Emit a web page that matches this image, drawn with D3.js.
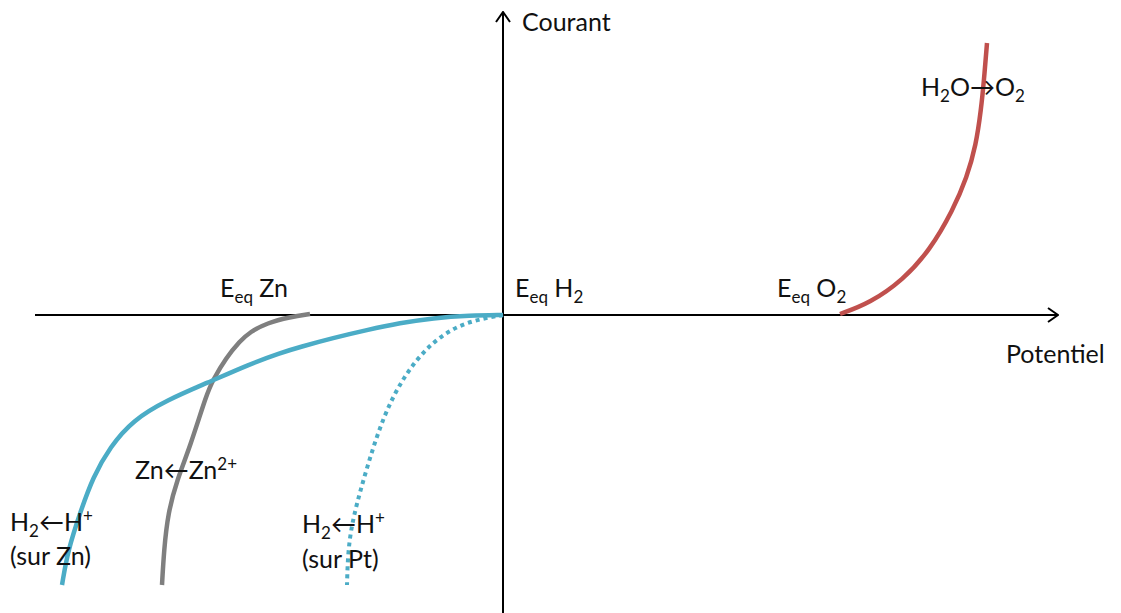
<!DOCTYPE html>
<html>
<head>
<meta charset="utf-8">
<script src="https://cdn.jsdelivr.net/npm/d3@7"></script>
<style>
  body { margin: 0; background: #fff; }
  text { font-family: Lato, "Open Sans", sans-serif; fill: #111; }
</style>
</head>
<body>
<div id="chart"></div>
<script>
// potential (x) and current (y), units (1 unit = 100 px)
const potRed = [3.37, 3.67, 4.00, 4.27, 4.50, 4.64, 4.73, 4.78, 4.81, 4.84];
const curRed = [0.01, 0.12, 0.35, 0.65, 1.05, 1.38, 1.70, 2.05, 2.35, 2.72];

const potGray = [-1.93, -2.13, -2.36, -2.53, -2.63, -2.77, -2.90, -2.96, -3.13, -3.26, -3.35, -3.39, -3.41];
const curGray = [0.01, -0.02, -0.08, -0.17, -0.26, -0.43, -0.65, -0.78, -1.32, -1.65, -1.98, -2.35, -2.70];

const potBlue = [0, -0.33, -0.70, -1.03, -1.36, -1.70, -2.03, -2.23, -2.53, -2.96, -3.36, -3.70, -3.93, -4.10, -4.23, -4.35, -4.41];
const curBlue = [0, -0.005, -0.03, -0.08, -0.15, -0.23, -0.32, -0.38, -0.49, -0.68, -0.85, -1.05, -1.32, -1.62, -1.98, -2.35, -2.70];

const potDot = [0, -0.40, -0.73, -1.00, -1.20, -1.36, -1.50, -1.55, -1.56];
const curDot = [0, -0.07, -0.28, -0.62, -1.02, -1.52, -2.02, -2.35, -2.70];

const eqPot = { Zn: -1.93, H2: 0, O2: 3.37 };
const xDomain = [-4.68, 5.55];
const yDomain = [-2.98, 3.03];

const width = 1121, height = 613;
const x = d3.scaleLinear().domain(xDomain).range([35, 1058]);
const y = d3.scaleLinear().domain(yDomain).range([613, 12]);

const svg = d3.select("#chart").append("svg")
  .attr("width", width).attr("height", height);

svg.append("defs").append("marker")
  .attr("id", "arrow")
  .attr("viewBox", "0 0 12 16")
  .attr("refX", 11).attr("refY", 8)
  .attr("markerWidth", 12).attr("markerHeight", 16)
  .attr("markerUnits", "userSpaceOnUse")
  .attr("orient", "auto")
  .append("path")
  .attr("d", "M1,1 L11,8 L1,15")
  .attr("fill", "none")
  .attr("stroke", "#000")
  .attr("stroke-width", 2);

// axes
svg.append("line")
  .attr("x1", x(xDomain[0])).attr("x2", x(xDomain[1]))
  .attr("y1", y(0)).attr("y2", y(0))
  .attr("stroke", "#000").attr("stroke-width", 2)
  .attr("marker-end", "url(#arrow)");
svg.append("line")
  .attr("x1", x(0)).attr("x2", x(0))
  .attr("y1", y(yDomain[0])).attr("y2", y(yDomain[1]))
  .attr("stroke", "#000").attr("stroke-width", 2)
  .attr("marker-end", "url(#arrow)");

const line = d3.line()
  .x(d => x(d[0])).y(d => y(d[1]))
  .curve(d3.curveBasis);

const curves = [
  { pot: potGray, cur: curGray, color: "#7f7f7f", dash: null },
  { pot: potBlue, cur: curBlue, color: "#4bacc6", dash: null },
  { pot: potDot, cur: curDot, color: "#4bacc6", dash: "4,4" },
  { pot: potRed, cur: curRed, color: "#c0504d", dash: null }
];

svg.selectAll(".curve")
  .data(curves)
  .enter()
  .append("path")
  .attr("class", "curve")
  .attr("d", c => line(c.pot.map((p, i) => [p, c.cur[i]])))
  .attr("fill", "none")
  .attr("stroke", c => c.color)
  .attr("stroke-width", c => c.dash ? 4 : 4.5)
  .attr("stroke-dasharray", c => c.dash);

// labels: parts are [text, "n"|"sub"|"sup"]
const fs = 25;
function label(px, py, parts) {
  const t = svg.append("text").attr("x", px).attr("y", py).attr("font-size", fs);
  let shift = 0;
  parts.forEach(([s, k]) => {
    const target = k === "sub" ? 6 : k === "sup" ? -9 : 0;
    t.append("tspan")
      .attr("dy", target - shift)
      .attr("font-size", k === "n" ? fs : fs * 0.68)
      .text(s);
    shift = target;
  });
  return t;
}

label(x(0) + 19, 31, [["Courant", "n"]]);
label(1006, 363, [["Potentiel", "n"]]);
label(x(eqPot.Zn) - 90, 297, [["E", "n"], ["eq", "sub"], [" Zn", "n"]]);
label(x(eqPot.H2) + 12, 297, [["E", "n"], ["eq", "sub"], [" H", "n"], ["2", "sub"]]);
label(x(eqPot.O2) - 63, 297, [["E", "n"], ["eq", "sub"], [" O", "n"], ["2", "sub"]]);
label(921, 96, [["H", "n"], ["2", "sub"], ["O\u2192O", "n"], ["2", "sub"]]);
label(135, 479, [["Zn\u2190Zn", "n"], ["2+", "sup"]]);
label(10, 531, [["H", "n"], ["2", "sub"], ["\u2190H", "n"], ["+", "sup"]]);
label(10, 565, [["(sur Zn)", "n"]]);
label(302, 533, [["H", "n"], ["2", "sub"], ["\u2190H", "n"], ["+", "sup"]]);
label(302, 568, [["(sur Pt)", "n"]]);
</script>
</body>
</html>
